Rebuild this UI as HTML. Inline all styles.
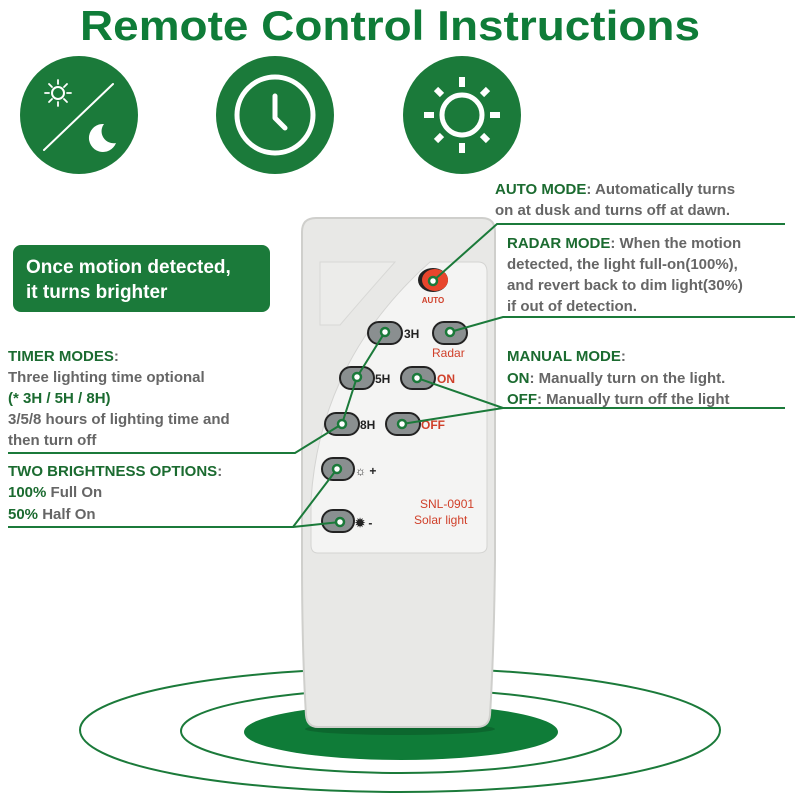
<!DOCTYPE html>
<html><head><style>
body{margin:0;width:800px;height:800px;background:#fff;overflow:hidden;font-family:"Liberation Sans",sans-serif}
</style></head><body>
<svg width="800" height="800" viewBox="0 0 800 800" xmlns="http://www.w3.org/2000/svg" font-family="Liberation Sans, sans-serif">
<text x="80" y="40" font-size="42" font-weight="bold" fill="#0f7c38" textLength="620" lengthAdjust="spacingAndGlyphs">Remote Control Instructions</text>
<!-- icons -->
<g fill="#1b7a3a"><circle cx="79" cy="115" r="59"/><circle cx="275" cy="115" r="59"/><circle cx="462" cy="115" r="59"/></g>
<g stroke="#fff" fill="none" stroke-linecap="round">
<line x1="44" y1="150" x2="113" y2="84" stroke-width="2"/>
<circle cx="58" cy="93" r="6" stroke-width="2"/>
<g stroke-width="1.8"><line x1="58" y1="80" x2="58" y2="84"/><line x1="58" y1="102" x2="58" y2="106"/><line x1="45" y1="93" x2="49" y2="93"/><line x1="67" y1="93" x2="71" y2="93"/><line x1="49" y1="84" x2="52" y2="87"/><line x1="64" y1="99" x2="67" y2="102"/><line x1="49" y1="102" x2="52" y2="99"/><line x1="64" y1="87" x2="67" y2="84"/></g>
<circle cx="275" cy="115" r="38" stroke-width="5"/>
<polyline points="275,96 275,118 285,128" stroke-width="5" stroke-linejoin="round"/>
<circle cx="462" cy="115" r="20" stroke-width="5"/>
<g stroke-width="6" stroke-linecap="butt"><line x1="462" y1="77" x2="462" y2="87"/><line x1="462" y1="143" x2="462" y2="153"/><line x1="424" y1="115" x2="434" y2="115"/><line x1="490" y1="115" x2="500" y2="115"/><line x1="436" y1="89" x2="442" y2="95"/><line x1="482" y1="135" x2="488" y2="141"/><line x1="436" y1="141" x2="442" y2="135"/><line x1="482" y1="95" x2="488" y2="89"/></g>
</g>
<path d="M104 124 a14 14 0 1 0 12 19 a12 12 0 0 1 -12 -19z" fill="#fff"/>
<!-- rings -->
<ellipse cx="400" cy="730" rx="320" ry="62" fill="none" stroke="#1b7a3a" stroke-width="2"/>
<ellipse cx="401" cy="731" rx="220" ry="42" fill="none" stroke="#1b7a3a" stroke-width="2"/>
<ellipse cx="401" cy="732" rx="157" ry="28" fill="#0f7c38"/>
<ellipse cx="400" cy="729" rx="95" ry="6" fill="#0a5a28" opacity="0.6"/>
<!-- remote -->
<path d="M316 218 L482 218 Q495 218 495 232 L495 560 Q494 650 490 715 Q489 727 477 727 L318 727 Q307 727 306 715 Q302 650 302 560 L302 232 Q302 218 316 218Z" fill="#e8e8e6" stroke="#cfcfcc" stroke-width="2"/>
<path d="M320 262 L395 262 Q370 290 340 325 L320 325Z" fill="#ececea" stroke="#d8d8d6"/>
<path d="M430 262 L478 262 Q487 262 487 272 L487 546 Q487 553 478 553 L318 553 Q311 553 311 545 L311 500 Q320 360 430 262Z" fill="#f4f4f3" stroke="#d4d4d2"/>
<ellipse cx="433" cy="280" rx="15" ry="12" fill="#222"/>
<ellipse cx="435" cy="280" rx="13" ry="11" fill="#e8452c"/>
<text x="433" y="303" text-anchor="middle" font-size="8" fill="#d0402a" font-weight="bold">AUTO</text>
<g fill="#8a8f90" stroke="#222" stroke-width="2">
<rect x="368" y="322" width="34" height="22" rx="11"/><rect x="433" y="322" width="34" height="22" rx="11"/>
<rect x="340" y="367" width="34" height="22" rx="11"/><rect x="401" y="367" width="34" height="22" rx="11"/>
<rect x="325" y="413" width="34" height="22" rx="11"/><rect x="386" y="413" width="34" height="22" rx="11"/>
<rect x="322" y="458" width="32" height="22" rx="11"/><rect x="322" y="510" width="32" height="22" rx="11"/>
</g>
<g font-size="12" font-weight="bold" fill="#222"><text x="404" y="338">3H</text><text x="375" y="383">5H</text><text x="360" y="429">8H</text>
<text x="355" y="475">☼ +</text><text x="355" y="527">✹ -</text></g>
<g font-size="12" fill="#d0402a"><text x="432" y="357">Radar</text><text x="437" y="383" font-weight="bold">ON</text><text x="421" y="429" font-weight="bold">OFF</text>
<text x="420" y="508">SNL-0901</text><text x="414" y="524">Solar light</text></g>
<!-- lines -->
<g stroke="#1b7a3a" stroke-width="2" fill="none">
<polyline points="433,281 497,224 785,224"/>
<polyline points="450,332 503,317 795,317"/>
<polyline points="417,378 503,408 785,408"/>
<line x1="402" y1="424" x2="503" y2="408"/>
<polyline points="385,332 357,377 342,424 295,453 8,453"/>
<polyline points="337,469 293,527 8,527"/>
<line x1="340" y1="522" x2="293" y2="527"/>
</g>
<g fill="#fff" stroke="#1b7a3a" stroke-width="2.5">
<circle cx="433" cy="281" r="4"/><circle cx="450" cy="332" r="4"/><circle cx="385" cy="332" r="4"/><circle cx="357" cy="377" r="4"/><circle cx="417" cy="378" r="4"/><circle cx="342" cy="424" r="4"/><circle cx="402" cy="424" r="4"/><circle cx="337" cy="469" r="4"/><circle cx="340" cy="522" r="4"/>
</g>
<!-- green box -->
<rect x="13" y="245" width="257" height="67" rx="8" fill="#1b7a3a"/>
<g font-size="19" font-weight="bold" fill="#fff"><text x="26" y="273">Once motion detected,</text><text x="26" y="298">it turns brighter</text></g>
<!-- left texts -->
<g font-size="15" font-weight="bold" fill="#666">
<text x="8" y="361" fill="#1b6b30">TIMER MODES<tspan fill="#666">:</tspan></text>
<text x="8" y="382">Three lighting time optional</text>
<text x="8" y="403" fill="#1b6b30">(* 3H / 5H / 8H)</text>
<text x="8" y="424">3/5/8 hours of lighting time and</text>
<text x="8" y="445">then turn off</text>
<text x="8" y="476" fill="#1b6b30">TWO BRIGHTNESS OPTIONS<tspan fill="#666">:</tspan></text>
<text x="8" y="497"><tspan fill="#1b6b30">100%</tspan> Full On</text>
<text x="8" y="519"><tspan fill="#1b6b30">50%</tspan> Half On</text>
<!-- right -->
<text x="495" y="194"><tspan fill="#1b6b30">AUTO MODE</tspan>: Automatically turns</text>
<text x="495" y="215">on at dusk and turns off at dawn.</text>
<text x="507" y="248"><tspan fill="#1b6b30">RADAR MODE</tspan>: When the motion</text>
<text x="507" y="269">detected, the light full-on(100%),</text>
<text x="507" y="290">and revert back to dim light(30%)</text>
<text x="507" y="311">if out of detection.</text>
<text x="507" y="361" fill="#1b6b30">MANUAL MODE<tspan fill="#666">:</tspan></text>
<text x="507" y="383"><tspan fill="#1b6b30">ON</tspan>: Manually turn on the light.</text>
<text x="507" y="404"><tspan fill="#1b6b30">OFF</tspan>: Manually turn off the light</text>
</g>
</svg>
</body></html>
